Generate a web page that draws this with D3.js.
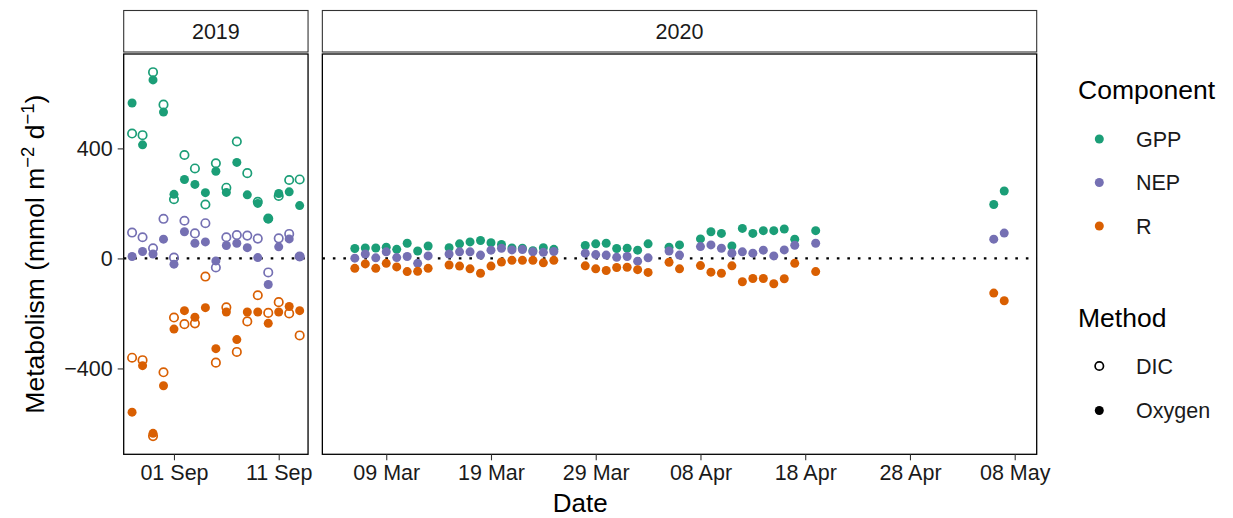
<!DOCTYPE html>
<html>
<head>
<meta charset="utf-8">
<script src="https://cdn.jsdelivr.net/npm/d3@7"></script>
<style>
  body { margin: 0; background: #fff; }
  svg { font-family: "Liberation Sans", Arial, sans-serif; }
</style>
</head>
<body>
<svg id="chart" width="1233" height="518"></svg>
<script>
// ---- data ----
const dates2019 = ["2019-08-28","2019-08-29","2019-08-30","2019-08-31","2019-09-01","2019-09-02",
  "2019-09-03","2019-09-04","2019-09-05","2019-09-06","2019-09-07","2019-09-08","2019-09-09",
  "2019-09-10","2019-09-11","2019-09-12","2019-09-13"];
const gppOxygen2019 = [565, 413, 649, 532, 233, 287, 269, 239, 317, 240, 349, 231, 200, 143, 236, 242, 192];
const gppDIC2019    = [454, 448, 677, 559, 215, 376, 327, 196, 346, 257, 425, 310, 206, 145, 227, 285, 287];
const nepOxygen2019 = [7, 25, 16, 70, -21, 97, 55, 60, -9, 47, 55, 39, 3, -95, 42, 71, 7];
const nepDIC2019    = [94, 77, 37, 144, 3, 137, 91, 128, -33, 77, 85, 83, 72, -51, 73, 89, 7];
const rOxygen2019   = [-559, -390, -636, -463, -257, -190, -214, -179, -328, -195, -295, -195, -195, -236, -195, -175, -190];
const rDIC2019      = [-361, -370, -646, -414, -215, -239, -236, -66, -379, -178, -340, -229, -134, -198, -159, -200, -280];

const dates2020 = ["2020-03-06","2020-03-07","2020-03-08","2020-03-09","2020-03-10","2020-03-11",
  "2020-03-12","2020-03-13","2020-03-15","2020-03-16","2020-03-17","2020-03-18","2020-03-19",
  "2020-03-20","2020-03-21","2020-03-22","2020-03-23","2020-03-24","2020-03-25",
  "2020-03-28","2020-03-29","2020-03-30","2020-03-31","2020-04-01","2020-04-02","2020-04-03",
  "2020-04-05","2020-04-06","2020-04-08","2020-04-09","2020-04-10","2020-04-11","2020-04-12",
  "2020-04-13","2020-04-14","2020-04-15","2020-04-16","2020-04-17","2020-04-19",
  "2020-05-06","2020-05-07"];
const gppOxygen2020 = [36, 38, 38, 41, 33, 55, 27, 45, 39, 53, 60, 65, 57, 51, 38, 37, 28, 39, 33,
  47, 53, 55, 36, 37, 30, 53, 41, 49, 71, 97, 91, 45, 109, 91, 101, 101, 107, 70, 101,
  196, 245];
const nepOxygen2020 = [1, 16, 2, 24, 3, 7, -18, 9, 16, 24, 24, 12, 30, 37, 31, 32, 24, 22, 25,
  19, 14, 12, 4, 7, -10, 2, 27, 12, 43, 49, 37, 19, 24, 19, 30, 9, 31, 48, 55,
  70, 92];
const rOxygen2020   = [-36, -20, -36, -18, -31, -48, -47, -36, -24, -28, -38, -54, -28, -13, -7, -7, -7, -16, -7,
  -27, -38, -44, -33, -32, -41, -51, -14, -38, -26, -50, -54, -27, -85, -73, -73, -92, -74, -18, -48,
  -126, -154];

const components = ["GPP", "NEP", "R"];
const methods = ["DIC", "Oxygen"];
const colours = ["#1B9E77", "#7570B3", "#D95F02"];
const yTicks = [-400, 0, 400];
const xTicks2019 = ["2019-09-01", "2019-09-11"];
const xTicks2020 = ["2020-03-09","2020-03-19","2020-03-29","2020-04-08","2020-04-18","2020-04-28","2020-05-08"];

// ---- long table ----
const rows = [];
function addSeries(dates, vals, comp, method, year) {
  dates.forEach((d, i) => rows.push({ date: new Date(d), value: vals[i], comp, method, year }));
}
addSeries(dates2019, gppDIC2019, "GPP", "DIC", 2019);
addSeries(dates2019, nepDIC2019, "NEP", "DIC", 2019);
addSeries(dates2019, rDIC2019, "R", "DIC", 2019);
addSeries(dates2019, gppOxygen2019, "GPP", "Oxygen", 2019);
addSeries(dates2019, nepOxygen2019, "NEP", "Oxygen", 2019);
addSeries(dates2019, rOxygen2019, "R", "Oxygen", 2019);
addSeries(dates2020, gppOxygen2020, "GPP", "Oxygen", 2020);
addSeries(dates2020, nepOxygen2020, "NEP", "Oxygen", 2020);
addSeries(dates2020, rOxygen2020, "R", "Oxygen", 2020);

const colour = d3.scaleOrdinal(components, colours);

// ---- layout ----
const svg = d3.select('#chart');
const panelTop = 54, panelBottom = 454.3, panelLeft = 123.7, panelRight = 1036.7, gap = 14.3;
const stripTop = 10.5, stripBottom = 52;

// y: shared, 5% expansion like ggplot
const yExt = d3.extent(rows, d => d.value);
const yPad = (yExt[1] - yExt[0]) * 0.05;
const y = d3.scaleLinear().domain([yExt[0] - yPad, yExt[1] + yPad]).range([panelBottom, panelTop]);

// free x scales with space proportional to span
const panels = [
  { year: 2019, ticks: xTicks2019 },
  { year: 2020, ticks: xTicks2020 }
];
panels.forEach(p => {
  const ext = d3.extent(rows.filter(r => r.year === p.year), r => +r.date);
  const pad = (ext[1] - ext[0]) * 0.05;
  p.domain = [ext[0] - pad, ext[1] + pad];
  p.span = p.domain[1] - p.domain[0];
});
const pxPer = (panelRight - panelLeft - gap) / d3.sum(panels, p => p.span);
let cursorX = panelLeft;
panels.forEach(p => {
  p.x0 = cursorX;
  p.x1 = cursorX + p.span * pxPer;
  cursorX = p.x1 + gap;
  p.x = d3.scaleUtc().domain(p.domain.map(v => new Date(v))).range([p.x0, p.x1]);
});

const fmt = d3.utcFormat('%d %b');

panels.forEach((p, pi) => {
  const g = svg.append('g');

  // strip
  g.append('rect')
    .attr('x', p.x0).attr('y', stripTop)
    .attr('width', p.x1 - p.x0).attr('height', stripBottom - stripTop)
    .attr('fill', '#fff').attr('stroke', '#333').attr('stroke-width', 1.1);
  g.append('text')
    .attr('x', (p.x0 + p.x1) / 2).attr('y', (stripTop + stripBottom) / 2 + 7.8)
    .attr('text-anchor', 'middle').attr('font-size', 21.5).attr('fill', '#1a1a1a')
    .text(p.year);

  // zero line
  g.append('line')
    .attr('x1', p.x0).attr('x2', p.x1)
    .attr('y1', y(0)).attr('y2', y(0))
    .attr('stroke', '#000').attr('stroke-width', 2.4)
    .attr('stroke-dasharray', '2.6,7.9');

  // points: open (DIC) first, filled (Oxygen) on top
  const data = rows.filter(r => r.year === p.year);
  g.append('g').selectAll('circle')
    .data(data.filter(d => d.method === 'DIC'))
    .enter().append('circle')
      .attr('cx', d => p.x(d.date)).attr('cy', d => y(d.value))
      .attr('r', 4.2).attr('fill', 'none')
      .attr('stroke', d => colour(d.comp)).attr('stroke-width', 1.7);
  g.append('g').selectAll('circle')
    .data(data.filter(d => d.method === 'Oxygen'))
    .enter().append('circle')
      .attr('cx', d => p.x(d.date)).attr('cy', d => y(d.value))
      .attr('r', 4.5).attr('fill', d => colour(d.comp));

  // panel border
  g.append('rect')
    .attr('x', p.x0).attr('y', panelTop)
    .attr('width', p.x1 - p.x0).attr('height', panelBottom - panelTop)
    .attr('fill', 'none').attr('stroke', '#000').attr('stroke-width', 1.3);

  // x axis
  const xa = g.append('g')
    .attr('transform', `translate(0,${panelBottom})`)
    .call(d3.axisBottom(p.x).tickValues(p.ticks.map(t => new Date(t)))
      .tickFormat(fmt).tickSize(6).tickPadding(4));
  xa.select('.domain').remove();
  xa.selectAll('line').attr('stroke', '#333').attr('stroke-width', 1.1);
  xa.selectAll('text').attr('font-size', 21.5).attr('fill', '#1a1a1a')
    .attr('font-family', '"Liberation Sans", Arial, sans-serif');

  // y axis on first panel
  if (pi === 0) {
    const ya = g.append('g')
      .attr('transform', `translate(${p.x0},0)`)
      .call(d3.axisLeft(y).tickValues(yTicks)
        .tickFormat(v => v < 0 ? '\u2212' + Math.abs(v) : v).tickSize(6).tickPadding(5));
    ya.select('.domain').remove();
    ya.selectAll('line').attr('stroke', '#333').attr('stroke-width', 1.1);
    ya.selectAll('text').attr('font-size', 21.5).attr('fill', '#1a1a1a')
      .attr('font-family', '"Liberation Sans", Arial, sans-serif');
  }
});

// axis titles
svg.append('text')
  .attr('x', (panelLeft + panelRight) / 2).attr('y', 512)
  .attr('text-anchor', 'middle').attr('font-size', 26).text('Date');

const yt = svg.append('text')
  .attr('transform', `translate(44,${(panelTop + panelBottom) / 2}) rotate(-90)`)
  .attr('text-anchor', 'middle').attr('font-size', 26.5);
yt.append('tspan').text('Metabolism (mmol m');
yt.append('tspan').attr('dy', -10).attr('font-size', 18.5).text('\u22122');
yt.append('tspan').attr('dy', 10).text(' d');
yt.append('tspan').attr('dy', -10).attr('font-size', 18.5).text('\u22121');
yt.append('tspan').attr('dy', 10).text(')');

// legend
const lg = svg.append('g');
lg.append('text').attr('x', 1078).attr('y', 99).attr('font-size', 26.5).text('Component');
components.forEach((c, i) => {
  const cy = 139 + i * 43.5;
  lg.append('circle').attr('cx', 1099.3).attr('cy', cy).attr('r', 4.5).attr('fill', colour(c));
  lg.append('text').attr('x', 1136).attr('y', cy + 7.8).attr('font-size', 21.5).attr('fill', '#1a1a1a').text(c);
});
lg.append('text').attr('x', 1078).attr('y', 327).attr('font-size', 26.5).text('Method');
methods.forEach((m, i) => {
  const cy = 366 + i * 44.5;
  const c = lg.append('circle').attr('cx', 1099.3).attr('cy', cy);
  if (m === 'DIC') c.attr('r', 4.2).attr('fill', 'none').attr('stroke', '#000').attr('stroke-width', 1.7);
  else c.attr('r', 4.5).attr('fill', '#000');
  lg.append('text').attr('x', 1136).attr('y', cy + 7.8).attr('font-size', 21.5).attr('fill', '#1a1a1a').text(m);
});
</script>
</body>
</html>
